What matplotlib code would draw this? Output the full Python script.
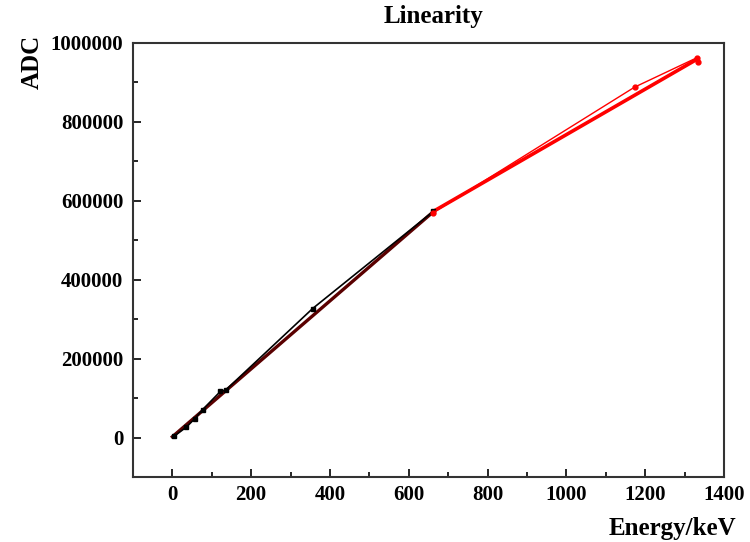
import numpy as np
import matplotlib.pyplot as plt
from matplotlib.ticker import MultipleLocator, FormatStrFormatter

plt.rcParams['font.family'] = ['Liberation Serif', 'DejaVu Serif']
plt.rcParams['font.weight'] = 'bold'

# black series (low energy sources), keV vs ADC
black_energy = [5, 35, 57, 77, 122, 136, 356, 662]
black_adc = [4000, 26000, 48000, 71000, 117000, 121000, 327000, 573000]

# red series (high energy sources)
red_energy = [662, 1173, 1332, 1334]
red_adc = [570000, 888000, 963000, 951000]

# fitted lines (end points)
black_fit_x = [0, 662]
black_fit_y = [2000, 572000]
red_fit_x = [662, 1332]
red_fit_y = [573000, 959000]

fig = plt.figure(figsize=(7.5, 5.42), dpi=100)
ax = fig.add_axes([0.1773, 0.1199, 0.9653 - 0.1773, 0.9207 - 0.1199])

ax.plot(black_fit_x, black_fit_y, color='#5a0000', lw=2.4, zorder=2)
ax.plot(red_fit_x, red_fit_y, color='red', lw=2.6, zorder=2)
ax.plot(black_energy, black_adc, color='black', lw=1.2, marker='s', ms=3.5, zorder=3)
ax.plot(red_energy, red_adc, color='red', lw=1.0, marker='o', ms=3.5, zorder=3)

ax.set_xlim(-100, 1400)
ax.set_ylim(-100000, 1000000)
ax.xaxis.set_major_locator(MultipleLocator(200))
ax.xaxis.set_minor_locator(MultipleLocator(100))
ax.yaxis.set_major_locator(MultipleLocator(200000))
ax.yaxis.set_minor_locator(MultipleLocator(100000))
ax.set_xticks([0, 200, 400, 600, 800, 1000, 1200, 1400])
ax.set_yticks([0, 200000, 400000, 600000, 800000, 1000000])
ax.xaxis.set_major_formatter(FormatStrFormatter('%d'))
ax.yaxis.set_major_formatter(FormatStrFormatter('%d'))

ax.tick_params(axis='both', which='major', direction='in', length=6, width=1.2,
               labelsize=15)
ax.tick_params(axis='both', which='minor', direction='in', length=3.5, width=1.2)
ax.tick_params(axis='x', which='major', pad=6)
ax.tick_params(axis='y', which='major', pad=7)
ax.tick_params(top=False, right=False, which='both')

for lbl in ax.get_xticklabels() + ax.get_yticklabels():
    lbl.set_fontweight('bold')

for sp in ax.spines.values():
    sp.set_linewidth(1.5)
    sp.set_color('#333333')

fig.text(434 / 750, 1 - 17 / 542, 'Linearity', ha='center', va='center',
         fontsize=18, fontweight='bold')
fig.text(672 / 750, 1 - 528 / 542, 'Energy/keV', ha='center', va='center',
         fontsize=18, fontweight='bold')
fig.text(32 / 750, 1 - 62 / 542, 'ADC', ha='center', va='center',
         rotation=90, fontsize=18, fontweight='bold')

fig.savefig('out.png', dpi=100)
